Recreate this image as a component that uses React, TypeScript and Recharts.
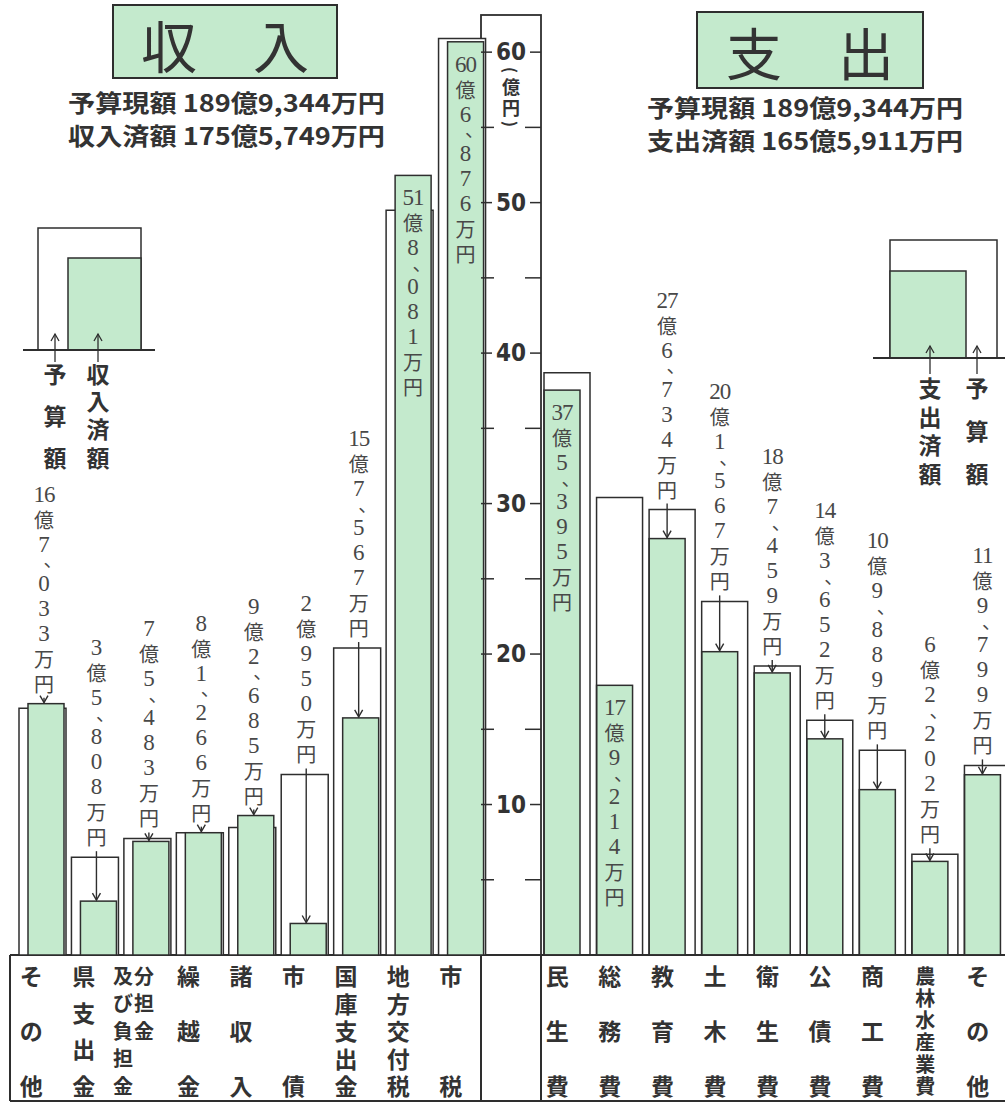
import React from "react";
import { BarChart, Bar, XAxis, YAxis } from "recharts";

// 収入 (億円)
const incomeCategories = ["その他", "県支出金", "分担金及び負担金", "繰越金", "諸収入", "市債", "国庫支出金", "地方交付税", "市税"];
const incomeBudget = [16.4, 6.5, 7.75, 8.13, 8.47, 12.0, 20.4, 49.5, 60.9];
const incomeActual = [16.7033, 3.5808, 7.5483, 8.1266, 9.2685, 2.095, 15.7567, 51.8081, 60.6876];

// 支出 (億円)
const expenseCategories = ["民生費", "総務費", "教育費", "土木費", "衛生費", "公債費", "商工費", "農林水産業費", "その他"];
const expenseBudget = [38.7, 30.4, 29.6, 23.5, 19.2, 15.6, 13.6, 6.7, 12.6];
const expenseActual = [37.5395, 17.9214, 27.6734, 20.1567, 18.7459, 14.3652, 10.9889, 6.2202, 11.9799];

const axisTicks = [5, 10, 15, 20, 25, 30, 35, 40, 45, 50, 55, 60];

// labels written inside the green bar instead of above it
const insideLabels = ["地方交付税", "市税", "民生費", "総務費"];

const incomeData = incomeCategories.map((name, i) => ({ name, budget: incomeBudget[i], actual: incomeActual[i] }));
const expenseData = expenseCategories.map((name, i) => ({ name, budget: expenseBudget[i], actual: expenseActual[i] }));

const GREEN = "#c4eacd";
const INK = "#2e2e2e";
const LABEL_INK = "#484848";
const SERIF = "'Liberation Serif', 'DejaVu Serif', 'Noto Sans CJK JP', serif";
const GOTHIC = "'Noto Sans CJK JP', 'Noto Sans', sans-serif";

const PAGE_W = 1005;
const PAGE_H = 1108;
const BASE_Y = 955;
const PLOT_TOP = 7;
const AXIS_LEFT = 481;
const AXIS_W = 60;

function splitAmount(v: number): string[] {
  const total = Math.round(v * 10000);
  const oku = Math.floor(total / 10000);
  const man = total % 10000;
  const manStr = man >= 1000 ? `${Math.floor(man / 1000)}、${String(man % 1000).padStart(3, "0")}` : String(man);
  return [String(oku), "億", ...manStr.split(""), "万", "円"];
}

const tokenStep = (t: string) => (t === "、" ? 14 : 25);

function makeActualShape(shiftX: number) {
  return function ActualShape(p: any) {
    const { x, y, width, height, payload } = p;
    if (!height || height <= 0) return null;
    const k = height / payload.actual;
    const bottom = y + height;
    const budgetTop = bottom - payload.budget * k;
    const tokens = splitAmount(payload.actual);
    const total = tokens.reduce((s, t) => s + tokenStep(t), 0);
    const inside = insideLabels.includes(payload.name);
    const cx = x + width / 2 + (inside ? 0 : shiftX);
    const end = Math.min(y, budgetTop) - 8;
    let cur = inside ? y + 10 : end - total;
    const texts = tokens.map((t, i) => {
      const step = tokenStep(t);
      const cy = cur + step / 2;
      cur += step;
      if (t === "、") {
        return (
          <text key={i} x={cx + 9} y={cy - 5} textAnchor="middle" dominantBaseline="central" fontSize={19} fontFamily={GOTHIC} fill={LABEL_INK}>
            、
          </text>
        );
      }
      const digit = /^\d+$/.test(t);
      return (
        <text key={i} x={cx} y={cy} textAnchor="middle" dominantBaseline="central" fontSize={digit ? 23 : 20}
          fontFamily={digit ? SERIF : GOTHIC} fill={LABEL_INK} letterSpacing={t.length > 1 ? -1 : 0}>
          {t}
        </text>
      );
    });
    return (
      <g>
        <rect x={x} y={y} width={width} height={height} fill={GREEN} stroke={INK} strokeWidth={1.5} />
        {texts}
        {!inside && (
          <g stroke={INK} strokeWidth={1.4} fill="none">
            <line x1={cx} x2={cx} y1={end + 2} y2={y - 1} />
            <path d={`M${cx - 4},${y - 8} L${cx},${y - 1} L${cx + 4},${y - 8}`} />
          </g>
        )}
      </g>
    );
  };
}

const incomeShape = makeActualShape(-2);
const expenseShape = makeActualShape(0);

function CategoryTick(props: any) {
  const { x, y, payload } = props;
  const name: string = payload.value;
  const cols: string[][] =
    name === "分担金及び負担金" ? [["分", "担", "金"], ["及", "び", "負", "担", "金"]] : [Array.from(name)];
  const n = Math.max(...cols.map((c) => c.length));
  const step = 110 / (n - 1);
  const small = n >= 6;
  const cx = x - 10;
  return (
    <g>
      {cols.map((col, ci) => {
        const colX = cols.length === 2 ? (ci === 0 ? cx + 8 : cx - 13) : cx;
        return col.map((ch, i) => (
          <text key={`${ci}-${i}`} x={colX} y={y + 20 + i * step} textAnchor="middle" dominantBaseline="central"
            fontSize={small || cols.length === 2 ? 20 : 23} fontWeight={700} fontFamily={GOTHIC} fill="#333">
            {ch}
          </text>
        ));
      })}
    </g>
  );
}

function AxisTick(props: any) {
  const { x, y, payload } = props;
  const right = x;
  const left = x - AXIS_W;
  const v = payload.value;
  const major = v % 10 === 0;
  const mid = left + AXIS_W / 2;
  return (
    <g>
      <line x1={left} x2={left + (major ? 11 : 13)} y1={y} y2={y} stroke={INK} strokeWidth={1.5} />
      <line x1={right - (major ? 11 : 16)} x2={right} y1={y} y2={y} stroke={INK} strokeWidth={1.5} />
      {major && (
        <text x={mid} y={y} textAnchor="middle" dominantBaseline="central" fontSize={24} fontWeight={700}
          fontFamily="'DejaVu Sans Condensed', 'Noto Sans', sans-serif" fill="#333">
          {v}
        </text>
      )}
      {v === 60 && (
        <g fontFamily={GOTHIC} fontWeight={700} fill="#333" textAnchor="middle" dominantBaseline="central">
          <text x={mid} y={y + 18} fontSize={16} transform={`rotate(90 ${mid} ${y + 18})`}>(</text>
          <text x={mid} y={y + 34} fontSize={18}>億</text>
          <text x={mid} y={y + 55} fontSize={18}>円</text>
          <text x={mid} y={y + 72} fontSize={16} transform={`rotate(90 ${mid} ${y + 72})`}>)</text>
        </g>
      )}
    </g>
  );
}

function VText({ x, ys, chars }: { x: number; ys: number[]; chars: string }) {
  return (
    <g>
      {Array.from(chars).map((ch, i) => (
        <text key={i} x={x} y={ys[i]} textAnchor="middle" dominantBaseline="central" fontSize={23} fontWeight={700}
          fontFamily={GOTHIC} fill="#333">
          {ch}
        </text>
      ))}
    </g>
  );
}

function UpArrow({ x, y1, y2 }: { x: number; y1: number; y2: number }) {
  return (
    <g stroke={INK} strokeWidth={1.3} fill="none">
      <line x1={x} x2={x} y1={y1} y2={y2} />
      <path d={`M${x - 4},${y2 + 7} L${x},${y2} L${x + 4},${y2 + 7}`} />
    </g>
  );
}

function Overlay() {
  return (
    <svg width={PAGE_W} height={PAGE_H} style={{ position: "absolute", left: 0, top: 0 }}>
      {/* titles */}
      <rect x={113} y={5} width={224} height={73} fill={GREEN} stroke={INK} strokeWidth={2} />
      <text x={225} y={43} textAnchor="middle" dominantBaseline="central" fontSize={56} fontFamily={GOTHIC} fontWeight={400} fill="#333">
        収　入
      </text>
      <rect x={697} y={12} width={226} height={76} fill={GREEN} stroke={INK} strokeWidth={2} />
      <text x={810} y={50} textAnchor="middle" dominantBaseline="central" fontSize={56} fontFamily={GOTHIC} fontWeight={400} fill="#333">
        支　出
      </text>
      <g fontFamily={GOTHIC} fontWeight={700} fontSize={24} fill="#333">
        <text x={68} y={101} dominantBaseline="central" textLength={317} lengthAdjust="spacingAndGlyphs">予算現額 189億9,344万円</text>
        <text x={68} y={134} dominantBaseline="central" textLength={317} lengthAdjust="spacingAndGlyphs">収入済額 175億5,749万円</text>
        <text x={647} y={106} dominantBaseline="central" textLength={316} lengthAdjust="spacingAndGlyphs">予算現額 189億9,344万円</text>
        <text x={647} y={139} dominantBaseline="central" textLength={316} lengthAdjust="spacingAndGlyphs">支出済額 165億5,911万円</text>
      </g>

      {/* legend: income */}
      <rect x={38} y={228} width={103} height={122} fill="#fff" stroke={INK} strokeWidth={1.5} />
      <rect x={68} y={258} width={73} height={92} fill={GREEN} stroke={INK} strokeWidth={1.5} />
      <line x1={23} x2={155} y1={350} y2={350} stroke={INK} strokeWidth={1.8} />
      <UpArrow x={55} y1={362} y2={334} />
      <UpArrow x={98} y1={362} y2={334} />
      <VText x={55} ys={[373, 415, 457]} chars="予算額" />
      <VText x={98} ys={[373, 400, 428, 457]} chars="収入済額" />

      {/* legend: expense */}
      <rect x={890} y={240} width={107} height={118} fill="#fff" stroke={INK} strokeWidth={1.5} />
      <rect x={890} y={271} width={76} height={87} fill={GREEN} stroke={INK} strokeWidth={1.5} />
      <line x1={873} x2={1005} y1={358} y2={358} stroke={INK} strokeWidth={1.8} />
      <UpArrow x={930} y1={374} y2={346} />
      <UpArrow x={977} y1={374} y2={346} />
      <VText x={930} ys={[387, 416, 444, 473]} chars="支出済額" />
      <VText x={977} ys={[387, 430, 473]} chars="予算額" />

      {/* axis column */}
      <rect x={AXIS_LEFT} y={15} width={AXIS_W} height={BASE_Y - 15} fill="#fff" stroke={INK} strokeWidth={1.8} />

      {/* category table */}
      <g stroke={INK} strokeWidth={2} fill="none">
        <line x1={10} x2={PAGE_W} y1={BASE_Y} y2={BASE_Y} />
        <line x1={10} x2={PAGE_W} y1={1101} y2={1101} />
        <line x1={10} x2={10} y1={BASE_Y} y2={1101} />
        <line x1={AXIS_LEFT} x2={AXIS_LEFT} y1={BASE_Y} y2={1101} />
        <line x1={AXIS_LEFT + AXIS_W} x2={AXIS_LEFT + AXIS_W} y1={BASE_Y} y2={1101} />
      </g>
    </svg>
  );
}

export default function App() {
  return (
    <div style={{ position: "relative", width: PAGE_W, height: PAGE_H, overflow: "hidden", background: "#fff" }}>
      <style>{"body{margin:0}"}</style>
      <Overlay />
      <div style={{ position: "absolute", left: 0, top: 0 }}>
        <BarChart width={490} height={PAGE_H} data={incomeData} margin={{ top: PLOT_TOP, right: 3, left: 15, bottom: 0 }} barGap={-38}>
          <XAxis dataKey="name" height={PAGE_H - BASE_Y} tick={<CategoryTick />} tickLine={false} axisLine={false}
            interval={0} tickSize={0} tickMargin={0} />
          <YAxis hide domain={[0, 63]} />
          <Bar dataKey="budget" barSize={47} fill="#fff" stroke={INK} strokeWidth={1.5} isAnimationActive={false} />
          <Bar dataKey="actual" barSize={36} shape={incomeShape} isAnimationActive={false} />
        </BarChart>
      </div>
      <div style={{ position: "absolute", left: 0, top: 0 }}>
        <BarChart width={1014} height={PAGE_H} data={expenseData} margin={{ top: PLOT_TOP, right: 0, left: AXIS_LEFT, bottom: 0 }} barGap={-36}>
          <XAxis dataKey="name" height={PAGE_H - BASE_Y} tick={<CategoryTick />} tickLine={false} axisLine={false}
            interval={0} tickSize={0} tickMargin={0} />
          <YAxis domain={[0, 63]} ticks={axisTicks} interval={0} width={AXIS_W} tick={<AxisTick />} tickLine={false}
            axisLine={false} tickSize={0} tickMargin={0} />
          <Bar dataKey="actual" barSize={36} shape={expenseShape} isAnimationActive={false} />
          <Bar dataKey="budget" barSize={46} fill="none" stroke={INK} strokeWidth={1.5} isAnimationActive={false} />
        </BarChart>
      </div>
    </div>
  );
}
